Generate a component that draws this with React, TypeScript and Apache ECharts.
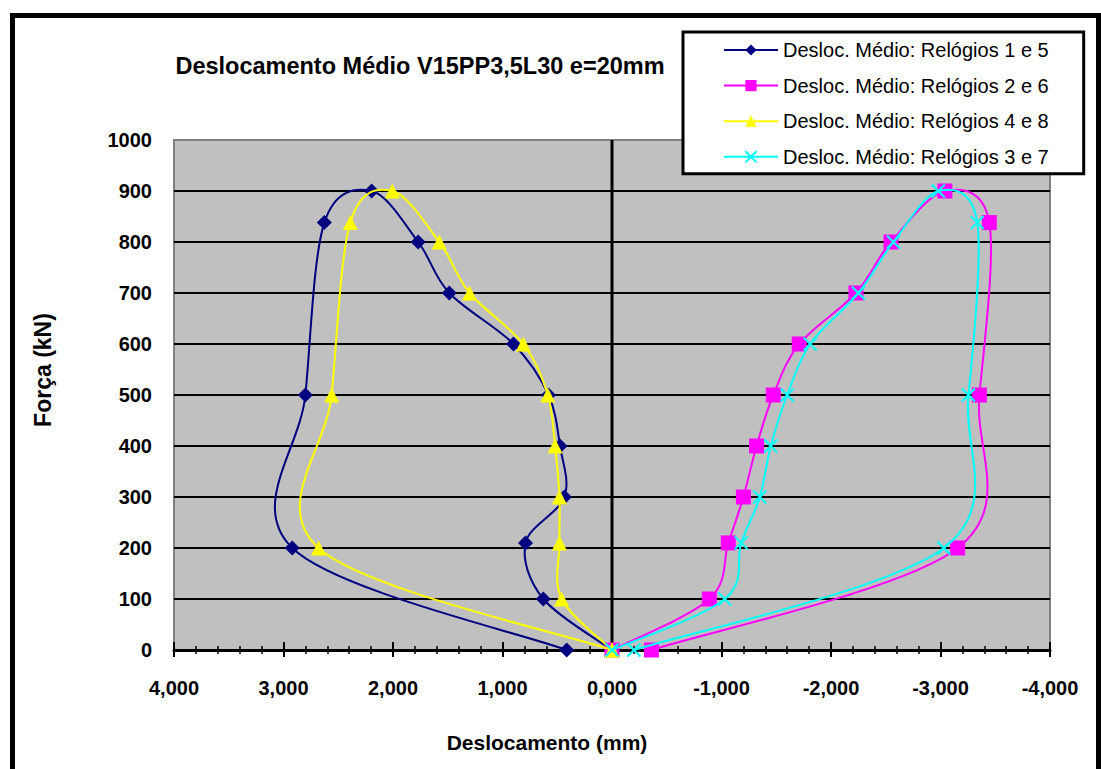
import React, { useEffect, useRef } from "react";
import * as echarts from "echarts";

// Força (kN) levels in loading order
const forceLevels = [0, 100, 210, 300, 400, 500, 600, 700, 800, 900, 838, 500, 200, 0];

// Deslocamento médio (mm)
const relogios15 = [0, 0.627, 0.79, 0.435, 0.475, 0.58, 0.9, 1.486, 1.77, 2.195, 2.627, 2.8, 2.92, 0.414];
const relogios26 = [0, -0.889, -1.062, -1.2, -1.32, -1.473, -1.71, -2.228, -2.548, -3.04, -3.446, -3.355, -3.157, -0.36];
const relogios48 = [0, 0.46, 0.48, 0.48, 0.52, 0.587, 0.81, 1.3, 1.577, 2.006, 2.39, 2.56, 2.68, 0];
const relogios37 = [0, -1.03, -1.18, -1.35, -1.45, -1.6, -1.81, -2.25, -2.57, -2.98, -3.336, -3.255, -3.03, -0.2];

const seriesNames = [
  "Desloc. Médio: Relógios 1 e 5",
  "Desloc. Médio: Relógios 2 e 6",
  "Desloc. Médio: Relógios 4 e 8",
  "Desloc. Médio: Relógios 3 e 7",
];

const zeroLine = [0, 0];
const zeroLineForce = [0, 1000];

const FONT = "'Liberation Sans', Arial, sans-serif";
const fmtX = (v: number) => (Math.abs(v) < 1e-9 ? 0 : v).toFixed(3).replace(".", ",");
const fmtY = (v: number) => String(v);

// Excel-like smoothed line: cubic Bezier segments with Catmull-Rom tangents (1/6),
// computed in pixel space from the library's own coordinate mapping.
function curve(key: string, xs: number[], color: string, z: number) {
  const pts = xs.map((x, i) => [x, forceLevels[i]]);
  const n = pts.length;
  return {
    type: "custom",
    name: key,
    data: pts,
    encode: { x: 0, y: 1 },
    clip: false,
    silent: true,
    z,
    renderItem: (params: any, api: any) => {
      const i = params.dataIndex;
      if (i >= n - 1) return null;
      const P = (k: number) => api.coord(pts[Math.max(0, Math.min(n - 1, k))]);
      const p0 = P(i - 1);
      const p1 = P(i);
      const p2 = P(i + 1);
      const p3 = P(i + 2);
      const t = 1 / 6;
      return {
        type: "bezierCurve",
        shape: {
          x1: p1[0],
          y1: p1[1],
          x2: p2[0],
          y2: p2[1],
          cpx1: p1[0] + (p2[0] - p0[0]) * t,
          cpy1: p1[1] + (p2[1] - p0[1]) * t,
          cpx2: p2[0] - (p3[0] - p1[0]) * t,
          cpy2: p2[1] - (p3[1] - p1[1]) * t,
        },
        style: { stroke: color, lineWidth: 2, fill: "none" },
      };
    },
  };
}

function markers(name: string, xs: number[], color: string, symbol: string, size: number, z: number, extra: any = {}) {
  return {
    type: "line",
    name,
    data: xs.map((x, i) => [x, forceLevels[i]]),
    symbol,
    symbolSize: size,
    showSymbol: true,
    lineStyle: { color, width: 2, opacity: 0 },
    itemStyle: { color, ...extra },
    emphasis: { disabled: true },
    silent: true,
    z,
  };
}

export default function App() {
  const ref = useRef<HTMLDivElement>(null);
  useEffect(() => {
    if (!ref.current) return;
    const chart = echarts.init(ref.current, undefined, { renderer: "svg" });
    const option: any = {
      animation: false,
      backgroundColor: "#ffffff",
      grid: {
        left: 174,
        right: 51,
        top: 140,
        bottom: 119,
        show: true,
        backgroundColor: "#C0C0C0",
        borderColor: "#808080",
        borderWidth: 2,
      },
      xAxis: [
        {
          type: "value",
          min: -4,
          max: 4,
          interval: 1,
          inverse: true,
          position: "bottom",
          axisLine: { show: true, onZero: false, lineStyle: { color: "#000", width: 3 } },
          axisTick: { show: true, length: 7, lineStyle: { color: "#000", width: 2 } },
          minorTick: { show: true, splitNumber: 5, length: 4, lineStyle: { color: "#000", width: 1.5 } },
          axisLabel: { formatter: fmtX, color: "#000", fontSize: 20, fontWeight: "bold", fontFamily: FONT, margin: 28 },
          splitLine: { show: false },
        },
        {
          type: "value",
          min: -4,
          max: 4,
          interval: 1,
          inverse: true,
          position: "bottom",
          axisLine: { show: false, onZero: false },
          axisTick: { show: true, inside: true, length: 8, lineStyle: { color: "#000", width: 2 } },
          minorTick: { show: true, splitNumber: 5, length: 4, lineStyle: { color: "#000", width: 1.5 } },
          axisLabel: { show: false },
          splitLine: { show: false },
        },
      ],
      yAxis: {
        type: "value",
        min: 0,
        max: 1000,
        interval: 100,
        axisLine: { show: false },
        axisTick: { show: false },
        axisLabel: { formatter: fmtY, color: "#000", fontSize: 20, fontWeight: "bold", fontFamily: FONT, margin: 22 },
        splitLine: { show: true, showMaxLine: false, lineStyle: { color: "#000", width: 2 } },
      },
      legend: {
        orient: "vertical",
        left: 683,
        top: 32,
        padding: [8, 35, 7, 40],
        itemGap: 15.6,
        itemWidth: 54,
        itemHeight: 14,
        backgroundColor: "#ffffff",
        borderColor: "#000000",
        borderWidth: 3,
        selectedMode: false,
        lineStyle: { opacity: 1, width: 2 },
        textStyle: { fontSize: 20, color: "#000", fontFamily: FONT, lineHeight: 20 },
        data: seriesNames,
      },
      series: [
        {
          type: "line",
          name: "zero",
          data: zeroLine.map((x, i) => [x, zeroLineForce[i]]),
          symbol: "none",
          lineStyle: { color: "#000", width: 3 },
          silent: true,
          z: 1,
        },
        curve("curva-1-5", relogios15, "#000080", 2),
        markers(seriesNames[0], relogios15, "#000080", "diamond", 15, 3),
        curve("curva-2-6", relogios26, "#FF00FF", 4),
        markers(seriesNames[1], relogios26, "#FF00FF", "rect", 15, 5),
        curve("curva-4-8", relogios48, "#FFFF00", 6),
        markers(seriesNames[2], relogios48, "#FFFF00", "triangle", 15, 7),
        curve("curva-3-7", relogios37, "#00FFFF", 8),
        markers(seriesNames[3], relogios37, "#00FFFF", "path://M0,0L10,10M10,0L0,10", 13, 9, {
          borderColor: "#00FFFF",
          borderWidth: 2,
        }),
      ],
      graphic: [
        {
          type: "rect",
          silent: true,
          z: 100,
          shape: { x: 12.5, y: 15.5, width: 1086, height: 800 },
          style: { fill: "none", stroke: "#000", lineWidth: 5 },
        },
        {
          type: "text",
          x: 420,
          y: 66,
          style: {
            text: "Deslocamento Médio V15PP3,5L30 e=20mm",
            font: `bold 23.5px ${FONT}`,
            fill: "#000",
            align: "center",
            verticalAlign: "middle",
            textAlign: "center",
            textVerticalAlign: "middle",
          },
        },
        {
          type: "text",
          x: 43,
          y: 370,
          rotation: Math.PI / 2,
          style: {
            text: "Força (kN)",
            font: `bold 23px ${FONT}`,
            fill: "#000",
            align: "center",
            verticalAlign: "middle",
            textAlign: "center",
            textVerticalAlign: "middle",
          },
        },
        {
          type: "text",
          x: 547,
          y: 742,
          style: {
            text: "Deslocamento (mm)",
            font: `bold 21px ${FONT}`,
            fill: "#000",
            align: "center",
            verticalAlign: "middle",
            textAlign: "center",
            textVerticalAlign: "middle",
          },
        },
      ],
    };
    chart.setOption(option);
    return () => chart.dispose();
  }, []);
  return (
    <div
      ref={ref}
      style={{ position: "fixed", left: 0, top: 0, width: 1101, height: 769, background: "#fff" }}
    />
  );
}
